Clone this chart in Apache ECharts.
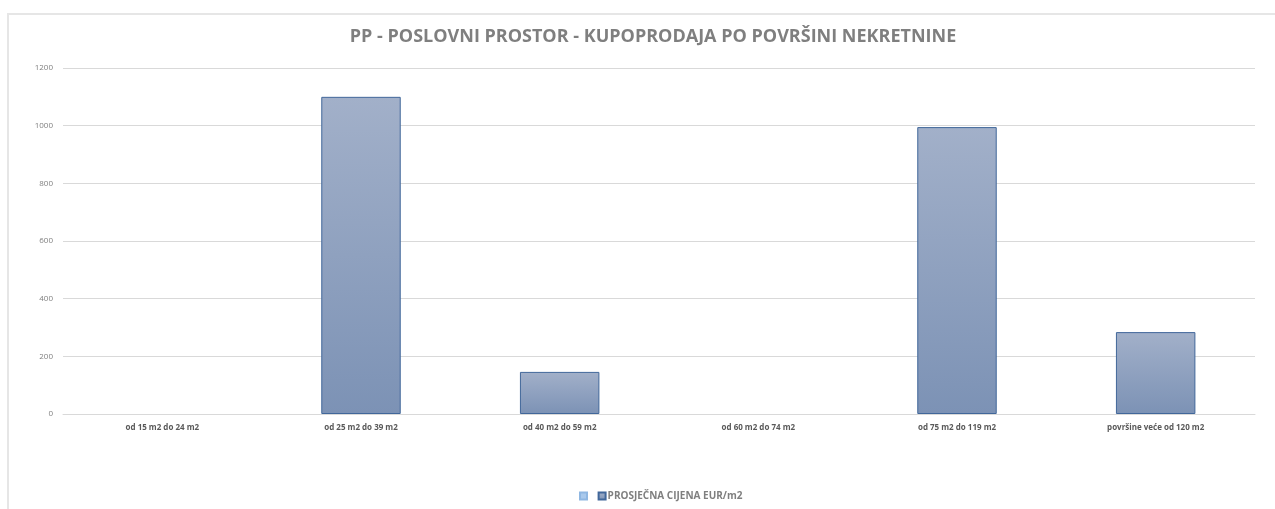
<!DOCTYPE html>
<html>
<head>
<meta charset="utf-8">
<script src="https://cdn.jsdelivr.net/npm/echarts@6/dist/echarts.min.js"></script>
<style>
  html, body { margin: 0; padding: 0; background: #fff; overflow: hidden; }
  #frame {
    position: absolute; left: 7px; top: 13px; width: 1280px; height: 510px;
    border: 2px solid #e6e6e6; box-sizing: border-box;
  }
  #chart { position: absolute; left: 0; top: 0; width: 1275px; height: 509px; }
</style>
</head>
<body>
<div id="frame"></div>
<div id="chart"></div>
<script>
// podaci
var categories = ["od 15 m2 do 24 m2", "od 25 m2 do 39 m2", "od 40 m2 do 59 m2",
  "od 60 m2 do 74 m2", "od 75 m2 do 119 m2", "površine veće od 120 m2"];
var prosjecnaCijena = [null, 1100, 146, null, 995, 284];
var yTicks = [0, 200, 400, 600, 800, 1000, 1200];

var grey = "#595959";
var font = "'Open Sans', 'Noto Sans', sans-serif";

var chart = echarts.init(document.getElementById("chart"));
var option = {
  animation: false,
  title: {
    text: "PP - POSLOVNI PROSTOR - KUPOPRODAJA PO POVRŠINI NEKRETNINE",
    left: 648,
    textAlign: "center",
    top: 23,
    textStyle: { color: "#7f7f7f", fontSize: 18, fontWeight: "bold", fontFamily: font }
  },
  legend: {
    top: 486,
    left: 574,
    icon: "rect",
    itemWidth: 7,
    itemHeight: 7,
    itemGap: 6,
    data: [" ", "PROSJEČNA CIJENA EUR/m2"],
    textStyle: { color: "#7f7f7f", fontSize: 10, fontWeight: "bold", fontFamily: font, padding: [0, 0, 0, -3] }
  },
  grid: { left: 63, right: 20, top: 68, bottom: 95 },
  xAxis: {
    type: "category",
    data: categories,
    axisLine: { lineStyle: { color: "#d9d9d9" } },
    axisTick: { show: false },
    axisLabel: { color: grey, fontSize: 8, fontWeight: "bold", fontFamily: font, margin: 10 }
  },
  yAxis: {
    type: "value",
    min: yTicks[0],
    max: yTicks[yTicks.length - 1],
    interval: 200,
    axisLine: { show: false },
    axisTick: { show: false },
    splitLine: { lineStyle: { color: "#d9d9d9" } },
    axisLabel: { color: "#7f7f7f", fontSize: 8, fontFamily: font, margin: 10,
      formatter: function (v) { return String(v); } }
  },
  series: [
    {
      name: " ",
      type: "bar",
      data: [],
      itemStyle: { color: "#a9c9ec", borderColor: "#8fb7e2", borderWidth: 1 }
    },
    {
      name: "PROSJEČNA CIJENA EUR/m2",
      type: "bar",
      barWidth: "40%",
      barGap: "-100%",
      data: prosjecnaCijena,
      itemStyle: {
        color: new echarts.graphic.LinearGradient(0, 0, 0, 1, [
          { offset: 0, color: "#a2b0c9" },
          { offset: 1, color: "#7c92b5" }
        ]),
        borderColor: "#41679a",
        borderWidth: 1
      }
    }
  ]
};
chart.setOption(option);
</script>
</body>
</html>
